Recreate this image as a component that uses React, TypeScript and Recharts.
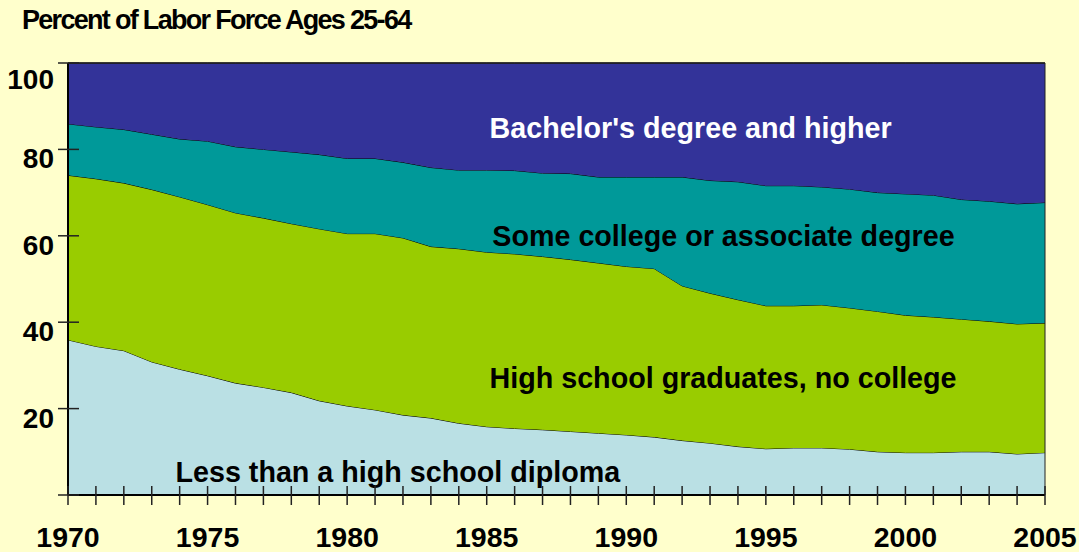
import React from "react";
import {
  Area,
  AreaChart,
  ReferenceDot,
  ReferenceLine,
  XAxis,
  YAxis,
} from "recharts";

// years shown on the x axis (one tick per year, label every 5)
const years = [
  1970, 1971, 1972, 1973, 1974, 1975, 1976, 1977, 1978, 1979, 1980, 1981,
  1982, 1983, 1984, 1985, 1986, 1987, 1988, 1989, 1990, 1991, 1992, 1993,
  1994, 1995, 1996, 1997, 1998, 1999, 2000, 2001, 2002, 2003, 2004, 2005,
];

// percent of labor force, ages 25-64
const lessThanHighSchool = [
  35.9, 34.4, 33.4, 30.8, 29.1, 27.6, 25.9, 24.9, 23.7, 21.8, 20.6, 19.7,
  18.5, 17.8, 16.6, 15.8, 15.4, 15.1, 14.7, 14.3, 13.9, 13.4, 12.6, 12.0,
  11.2, 10.7, 10.9, 10.9, 10.6, 10.0, 9.8, 9.8, 10.0, 10.0, 9.5, 9.8,
];
const highSchool = [
  38.1, 38.8, 38.8, 39.9, 39.9, 39.6, 39.4, 39.2, 39.1, 39.8, 39.9, 40.8,
  41.0, 39.7, 40.4, 40.4, 40.4, 40.1, 39.8, 39.4, 39.0, 39.0, 35.8, 34.7,
  34.0, 33.1, 32.9, 33.1, 32.7, 32.5, 31.8, 31.4, 30.7, 30.2, 30.1, 30.0,
];
const someCollege = [
  11.9, 12.0, 12.4, 12.8, 13.4, 14.7, 15.3, 15.9, 16.6, 17.2, 17.4, 17.4,
  17.5, 18.3, 18.2, 19.0, 19.3, 19.3, 19.9, 19.9, 20.7, 21.2, 25.2, 26.1,
  27.3, 27.8, 27.8, 27.3, 27.5, 27.5, 28.1, 28.2, 27.7, 27.8, 27.8, 27.9,
];
const bachelors = [
  14.1, 14.8, 15.4, 16.5, 17.6, 18.1, 19.4, 20.0, 20.6, 21.2, 22.1, 22.1,
  23.0, 24.2, 24.8, 24.8, 24.9, 25.5, 25.6, 26.4, 26.4, 26.4, 26.4, 27.2,
  27.5, 28.4, 28.4, 28.7, 29.2, 30.0, 30.3, 30.6, 31.6, 32.0, 32.6, 32.3,
];

const yTicks = [0, 20, 40, 60, 80, 100];

const data = years.map((year, i) => ({
  year,
  less: lessThanHighSchool[i],
  hs: highSchool[i],
  some: someCollege[i],
  ba: bachelors[i],
}));

const FONT = '"Liberation Sans", Arial, sans-serif';

const XTick = (props: any) => {
  const { x, y, payload } = props;
  const v = payload.value;
  return (
    <g>
      <line x1={x} x2={x} y1={y - 9} y2={y + 10} stroke="#222" strokeWidth={1.5} />
      {v % 5 === 0 && (
        <text
          x={x}
          y={y + 52}
          textAnchor="middle"
          fontFamily={FONT}
          fontWeight="bold"
          fontSize={28.5}
          fill="#000"
        >
          {v}
        </text>
      )}
    </g>
  );
};

const YTick = (props: any) => {
  const { x, y, payload } = props;
  const v = payload.value;
  return (
    <g>
      <line x1={x - 10} x2={x + 11} y1={y} y2={y} stroke="#222" strokeWidth={1.5} />
      {v > 0 && (
        <text
          x={x - 14}
          y={y + (v === 100 ? 26 : 19)}
          textAnchor="end"
          fontFamily={FONT}
          fontWeight="bold"
          fontSize={28}
          fill="#000"
        >
          {v}
        </text>
      )}
    </g>
  );
};

const areaLabel = (text: string, color: string) => (p: any) =>
  (
    <text
      x={p.cx}
      y={p.cy}
      dominantBaseline="central"
      fontFamily={FONT}
      fontWeight="bold"
      fontSize={28.7}
      fill={color}
    >
      {text}
    </text>
  );

export default function App() {
  return (
    <div
      style={{
        position: "absolute",
        left: 0,
        top: 0,
        width: 1079,
        height: 552,
        background: "#FFFFCC",
        overflow: "hidden",
      }}
    >
      <div
        style={{
          position: "absolute",
          left: 22,
          top: 5,
          fontFamily: FONT,
          fontWeight: "bold",
          fontSize: 27,
          letterSpacing: -1.7,
          lineHeight: "31px",
          color: "#000",
          whiteSpace: "nowrap",
        }}
      >
        Percent of Labor Force Ages 25-64
      </div>
      <AreaChart
        width={1079}
        height={552}
        data={data}
        margin={{ top: 63, right: 34, left: 8, bottom: 0 }}
        style={{ position: "absolute", left: 0, top: 0 }}
      >
        <XAxis
          dataKey="year"
          type="number"
          domain={[1970, 2005]}
          ticks={years}
          interval={0}
          height={57}
          tickSize={0}
          tickMargin={0}
          tick={<XTick />}
          axisLine={{ stroke: "#000", strokeWidth: 2 }}
        />
        <YAxis
          type="number"
          domain={[0, 100]}
          ticks={yTicks}
          interval={0}
          width={60}
          tickSize={0}
          tickMargin={0}
          tick={<YTick />}
          axisLine={{ stroke: "#000", strokeWidth: 2 }}
        />
        <Area
          type="linear"
          dataKey="less"
          stackId="1"
          stroke="#000"
          strokeWidth={1}
          fill="#BAE0E4"
          fillOpacity={1}
          isAnimationActive={false}
        />
        <Area
          type="linear"
          dataKey="hs"
          stackId="1"
          stroke="#000"
          strokeWidth={1}
          fill="#99CC00"
          fillOpacity={1}
          isAnimationActive={false}
        />
        <Area
          type="linear"
          dataKey="some"
          stackId="1"
          stroke="#000"
          strokeWidth={1}
          fill="#009999"
          fillOpacity={1}
          isAnimationActive={false}
        />
        <Area
          type="linear"
          dataKey="ba"
          stackId="1"
          stroke="#000"
          strokeWidth={1}
          fill="#333399"
          fillOpacity={1}
          isAnimationActive={false}
        />
        <ReferenceLine y={100} stroke="#222" strokeWidth={1.5} />
        <ReferenceLine x={2005} stroke="#222" strokeWidth={1} />
        <ReferenceDot
          x={1985.1}
          y={85}
          r={0}
          shape={areaLabel("Bachelor's degree and higher", "#FFFFFF")}
        />
        <ReferenceDot
          x={1985.2}
          y={60}
          r={0}
          shape={areaLabel("Some college or associate degree", "#000")}
        />
        <ReferenceDot
          x={1985.1}
          y={27.1}
          r={0}
          shape={areaLabel("High school graduates, no college", "#000")}
        />
        <ReferenceDot
          x={1973.85}
          y={5.3}
          r={0}
          shape={areaLabel("Less than a high school diploma", "#000")}
        />
      </AreaChart>
    </div>
  );
}
